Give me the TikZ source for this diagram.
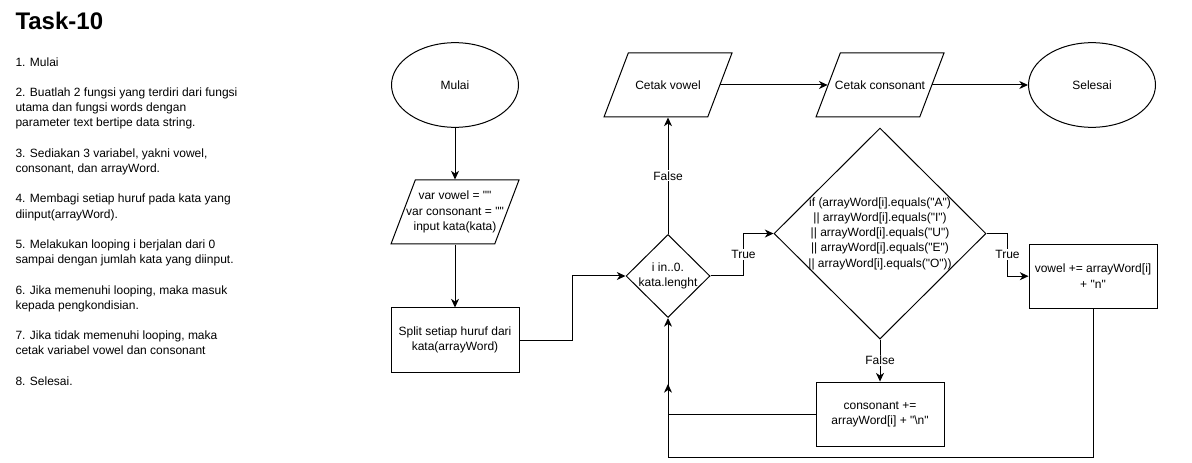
\documentclass[tikz,border=0pt]{standalone}
\usepackage{fontspec}
\setmainfont{Liberation Sans}[Ligatures=TeXOff]
\usetikzlibrary{arrows.meta}
\usetikzlibrary{positioning}
\usetikzlibrary{shapes.geometric}
\tikzstyle{every node}+=[inner sep=0pt]
\tikzstyle{term} = [ellipse, draw, minimum width=95.25pt, minimum height=63.5pt]
\tikzstyle{io} = [trapezium, draw, inner sep=2pt, trapezium left angle=73, trapezium right angle=107, trapezium stretches=true, minimum width=96pt, minimum height=48pt]
\tikzstyle{block} = [rectangle, draw, text centered, minimum width=96pt, minimum height=48pt]
\tikzstyle{decision} = [diamond, draw, inner sep=1pt]
\tikzstyle{line} = [draw, -{Stealth[length=6.5pt, width=6pt, inset=2pt]}]
\tikzstyle{tag} = [fill=white, inner sep=1pt]

\begin{document}
\begin{tikzpicture}[x=0.75pt, y=-0.75pt, line width=0.75pt, font=\fontsize{9}{11.4}\selectfont, every node/.append style={align=center}]
            \useasboundingbox (0,0) rectangle (1192,463);
            % Steps
            \node [anchor=base west, font=\fontsize{18}{20}\selectfont\bfseries] (title) at (15,30) {Task-10};
            \node [anchor=north west, align=left] (steps) at (15,57) {1. Mulai\\[11.4pt]
              2. Buatlah 2 fungsi yang terdiri dari fungsi\\utama dan fungsi words dengan\\parameter text bertipe data string.\\[11.4pt]
              3. Sediakan 3 variabel, yakni vowel,\\consonant, dan arrayWord.\\[11.4pt]
              4. Membagi setiap huruf pada kata yang\\diinput(arrayWord).\\[11.4pt]
              5. Melakukan looping i berjalan dari 0\\sampai dengan jumlah kata yang diinput.\\[11.4pt]
              6. Jika memenuhi looping, maka masuk\\kepada pengkondisian.\\[11.4pt]
              7. Jika tidak memenuhi looping, maka\\cetak variabel vowel dan consonant\\[11.4pt]
              8. Selesai.};
            % Place nodes
            \node [term] (mulai) at (455,85) {Mulai};
            \node [io, below of=mulai, node distance=95.25pt, label={center:{var vowel = ""\\var consonant = ""\\input kata(kata)}}] (input) {};
            \node [block, below of=input, node distance=96pt] (split) {Split setiap huruf dari\\kata(arrayWord)};
            \node [io, label={center:Cetak vowel}] (cvowel) at (668,85) {};
            \node [io, right of=cvowel, node distance=159pt, label={center:Cetak consonant}] (ccons) {};
            \node [term, right of=ccons, node distance=159pt] (selesai) {Selesai};
            \node [decision, below of=cvowel, node distance=143.25pt, minimum width=63pt, minimum height=62.25pt, label={center:{i in..0.\\kata.lenght}}] (loop) {};
            \node [decision, below of=ccons, node distance=111.4pt, minimum width=159pt, minimum height=158.25pt, label={center:{if (arrayWord[i].equals("A")\\|| arrayWord[i].equals("I")\\|| arrayWord[i].equals("U")\\|| arrayWord[i].equals("E")\\|| arrayWord[i].equals("O"))}}] (cond) {};
            \node [block, right of=cond, node distance=159.75pt, yshift=-32pt] (addv) {vowel += arrayWord[i]\\+ "n"};
            \node [block, below of=cond, node distance=135.4pt] (addc) {consonant +=\\arrayWord[i] + "\textbackslash n"};
            \coordinate (back) at (668,384);
            % Draw edges
            \path [line] (mulai) -- (input);
            \path [line] (input) -- (split);
            \path [line] (split.east) -- ++(53,0) |- (loop.west);
            \path [line] (loop.north) -- node [tag] {False} (cvowel.south);
            \path [line] (cvowel) -- (ccons);
            \path [line] (ccons) -- (selesai);
            \path [line] (loop.east) -- ++(33,0) |- node [tag, pos=0.25] {True} (cond.west);
            \path [line] (cond.east) -- ++(21,0) |- node [tag, pos=0.25] {True} (addv.west);
            \path [line] (cond.south) -- node [tag] {False} (addc.north);
            \path [line] (addc.west) -| (loop.south);
            \path [line] (addv.south) -- ++(0,149) -| (back);
          \end{tikzpicture}
\end{document}
